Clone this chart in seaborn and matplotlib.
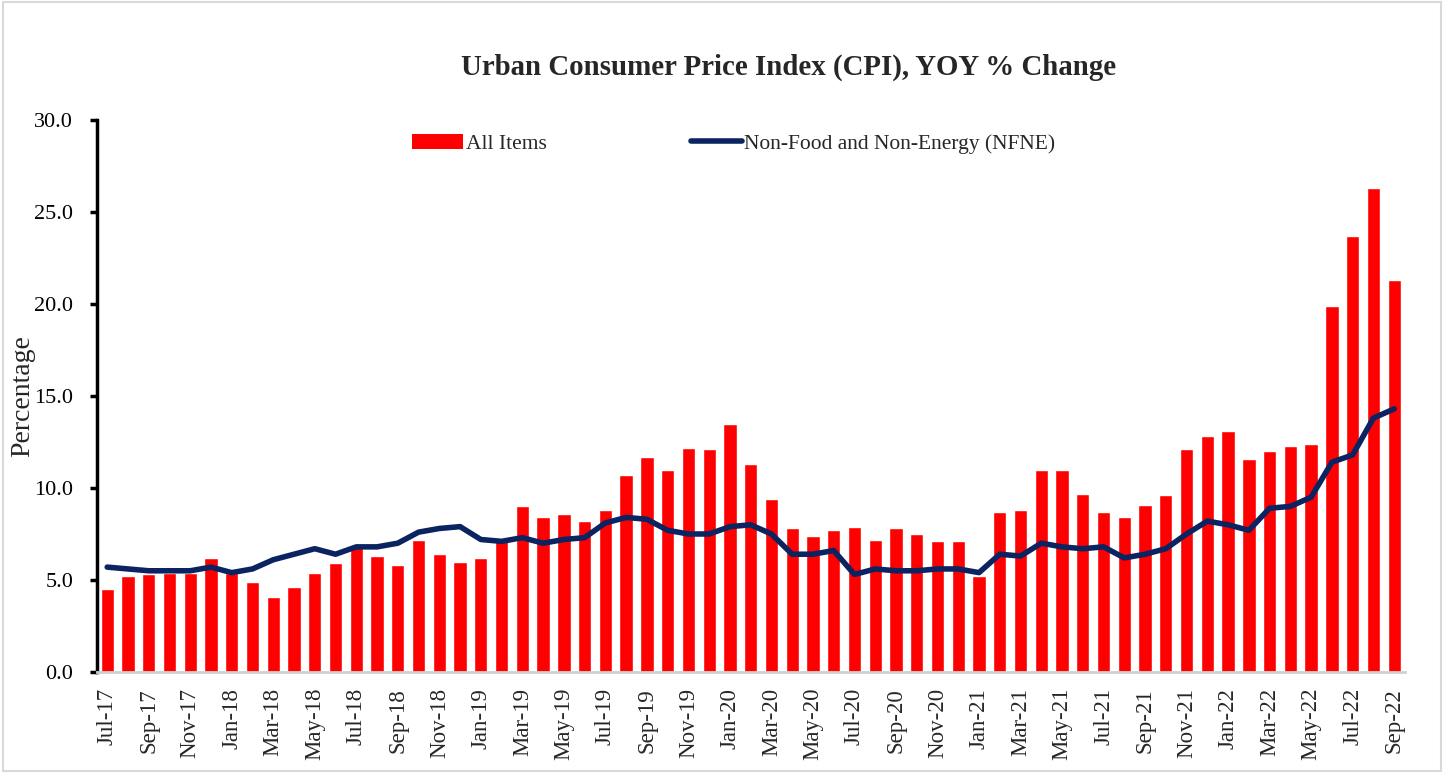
import numpy as np
import pandas as pd
import matplotlib.pyplot as plt
import seaborn as sns
from matplotlib.patches import Patch, Rectangle
from matplotlib.lines import Line2D

# Monthly labels Jul-17 .. Sep-22
months = pd.date_range("2017-07-01", "2022-09-01", freq="MS").strftime("%b-%y").tolist()

# All Items (bars)
all_items = [4.5, 5.2, 5.3, 5.4, 5.4, 6.2, 5.4, 4.9, 4.1, 4.6, 5.4, 5.9,
             6.8, 6.3, 5.8, 7.2, 6.4, 6.0, 6.2, 7.3, 9.0, 8.4, 8.6, 8.2,
             8.8, 10.7, 11.7, 11.0, 12.2, 12.1, 13.5, 11.3, 9.4, 7.8, 7.4, 7.7,
             7.9, 7.2, 7.8, 7.5, 7.1, 7.1, 5.2, 8.7, 8.8, 11.0, 11.0, 9.7,
             8.7, 8.4, 9.1, 9.6, 12.1, 12.8, 13.1, 11.6, 12.0, 12.3, 12.4, 19.9,
             23.7, 26.3, 21.3]

# Non-Food and Non-Energy (line)
nfne = [5.7, 5.6, 5.5, 5.5, 5.5, 5.7, 5.4, 5.6, 6.1, 6.4, 6.7, 6.4,
        6.8, 6.8, 7.0, 7.6, 7.8, 7.9, 7.2, 7.1, 7.3, 7.0, 7.2, 7.3,
        8.1, 8.4, 8.3, 7.7, 7.5, 7.5, 7.9, 8.0, 7.5, 6.4, 6.4, 6.6,
        5.3, 5.6, 5.5, 5.5, 5.6, 5.6, 5.4, 6.4, 6.3, 7.0, 6.8, 6.7,
        6.8, 6.2, 6.4, 6.7, 7.5, 8.2, 8.0, 7.7, 8.9, 9.0, 9.5, 11.4,
        11.8, 13.8, 14.3]

df = pd.DataFrame({"Month": months, "All Items": all_items, "NFNE": nfne})
df["pos"] = np.arange(len(df))

sns.set_style("white")
plt.rcParams["font.family"] = ["Liberation Serif", "DejaVu Serif"]

fig = plt.figure(figsize=(14.45, 7.73), dpi=100)
ax = fig.add_axes([0.067, 0.1307, 0.905, 0.714])

# Bars
sns.barplot(data=df, x="Month", y="All Items", color="#ff0000", width=0.64,
            saturation=1, ax=ax, zorder=2)
# Line
sns.lineplot(data=df, x="pos", y="NFNE", color="#0b2461", linewidth=4,
             ax=ax, zorder=3)

ax.set_xlim(-0.5, len(df) - 0.5)
ax.set_ylim(0, 30)
ax.set_yticks(np.arange(0, 31, 5))
ax.set_yticklabels([f"{v:.1f}" for v in np.arange(0, 31, 5)], fontsize=16)
ax.set_xticks(df["pos"][::2])
ax.set_xticklabels(df["Month"][::2], rotation=90, fontsize=16.5)
ax.set_xlabel("")
ax.set_ylabel("Percentage", fontsize=20)
ax.yaxis.set_label_coords(-0.047, 0.5)

for s in ["top", "right"]:
    ax.spines[s].set_visible(False)
ax.spines["left"].set_color("black")
ax.spines["left"].set_linewidth(2.5)
ax.spines["bottom"].set_color("#d0d0d0")
ax.spines["bottom"].set_linewidth(2)
ax.tick_params(axis="y", which="both", left=True, length=5, width=2.5,
               direction="out", pad=12, colors="black")
ax.tick_params(axis="x", bottom=False, pad=8)

# Legend
handles = [Patch(facecolor="#ff0000", edgecolor="none"),
           Line2D([0], [0], color="#0b2461", linewidth=4)]
ax.legend(handles, ["All Items", "Non-Food and Non-Energy (NFNE)"],
          loc="upper center", bbox_to_anchor=(0.487, 1.01), ncol=2, frameon=False,
          fontsize=15.5, columnspacing=6.7, handlelength=2.4, handletextpad=0.1)

fig.text(0.546, 0.913, "Urban Consumer Price Index (CPI), YOY % Change",
         ha="center", va="center", fontsize=20.8, fontweight="bold")

# light frame around the whole image
fig.patches.append(Rectangle((0.002, 0.003), 0.995, 0.994, transform=fig.transFigure,
                             fill=False, edgecolor="#d9d9d9", linewidth=1.5))

fig.savefig("out.png", dpi=100)
